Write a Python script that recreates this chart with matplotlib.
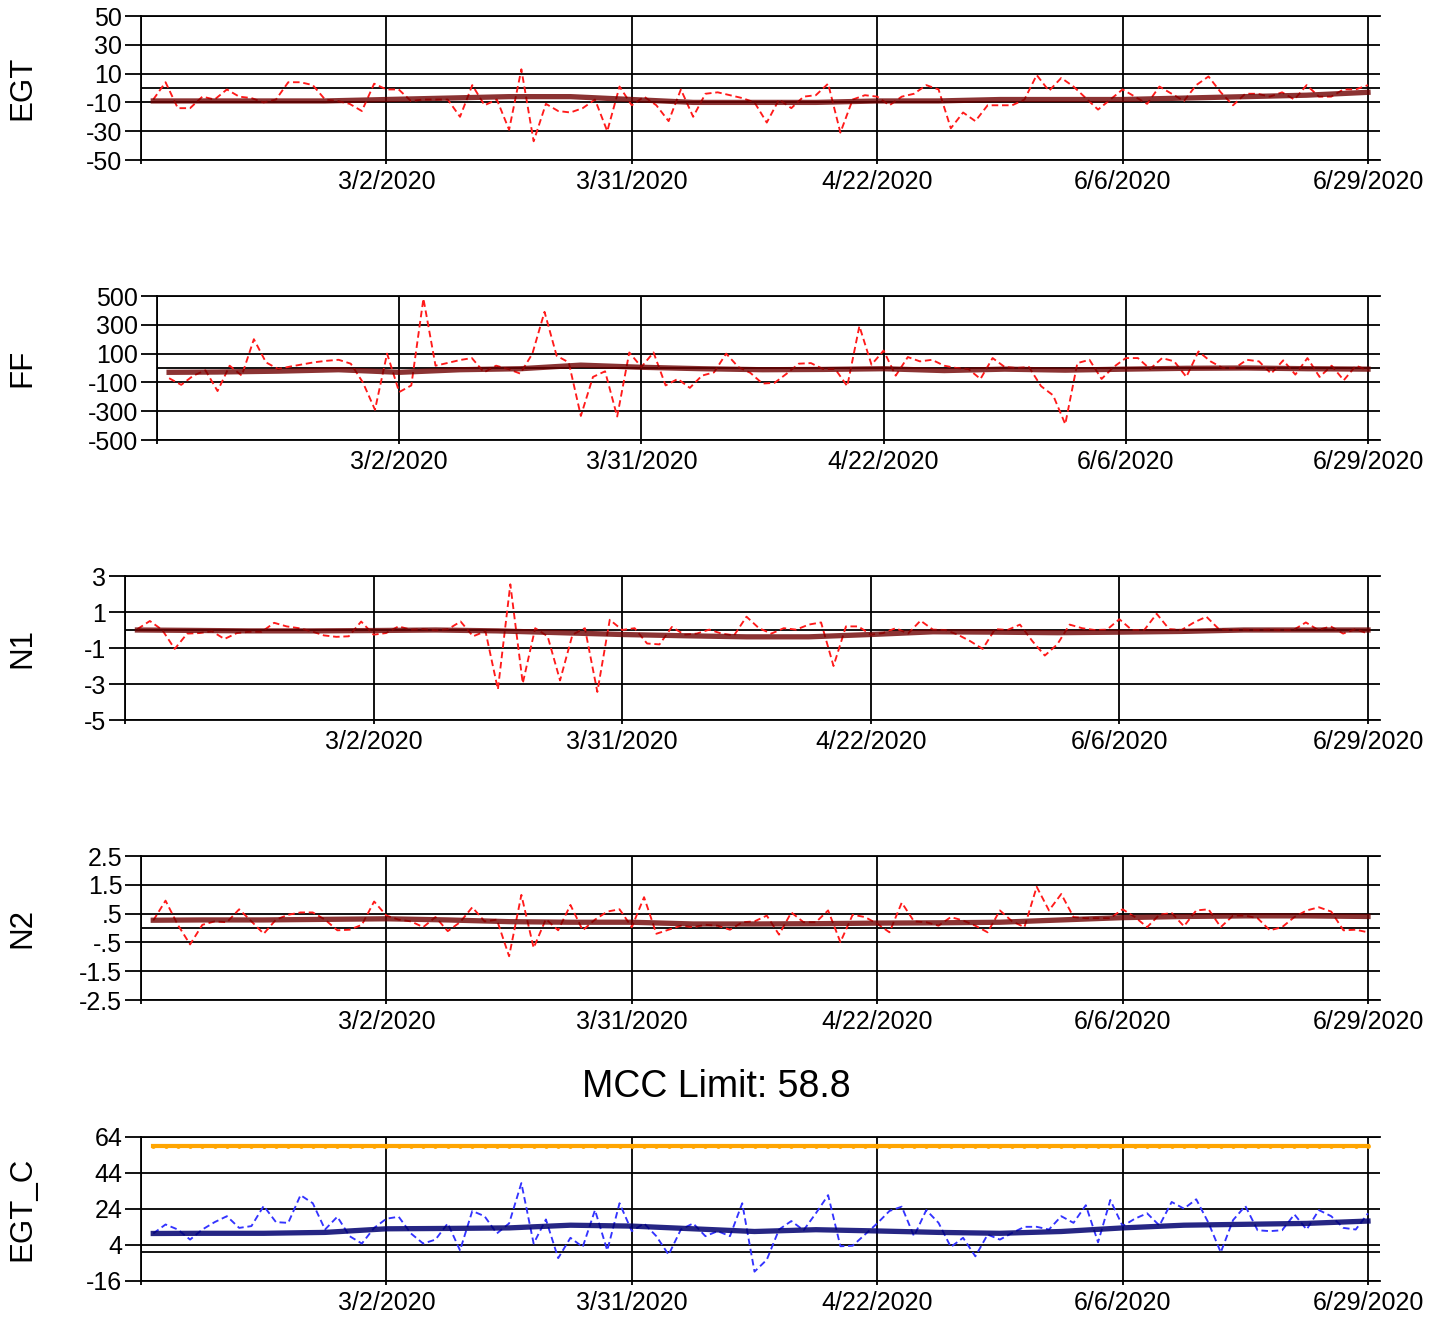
import numpy as np
import matplotlib.pyplot as plt

plt.rcParams['font.family'] = ['Liberation Sans', 'DejaVu Sans']

# x axis: flight index, labelled every 20 points
dates = ['3/2/2020', '3/31/2020', '4/22/2020', '6/6/2020', '6/29/2020']
date_pos = [20, 40, 60, 80, 100]
flight = np.arange(1, 101)
trend_x = [1, 5, 10, 15, 20, 25, 30, 35, 40, 45, 50, 55, 60, 65, 70, 75, 80, 85, 90, 95, 100]

egt = [-8, 4, -14, -14, -6, -8, -1, -6, -7, -10,
       -8, 4, 4, 2, -8, -9, -11, -16, 3, -1,
       -1, -9, -8, -8, -8, -20, 2, -12, -8, -29,
       13, -37, -11, -16, -17, -14, -8, -30, 1, -12,
       -6, -12, -23, -1, -20, -4, -3, -5, -7, -10,
       -24, -8, -14, -6, -5, 3, -31, -8, -5, -6,
       -12, -6, -4, 2, -1, -28, -17, -23, -12, -12,
       -12, -8, 9, -2, 7, 1, -7, -15, -8, -1,
       -6, -11, 1, -4, -9, 2, 8, -3, -12, -4,
       -4, -6, -3, -8, 2, -6, -6, -1, -1, 2]
egt_trend = [-9, -9, -9, -9, -8, -7, -6, -6, -8, -10, -10,
             -10, -9, -9, -8, -8, -8, -7, -6, -5, -3]

ff = [-71, -117, -53, -16, -160, 16, -53, 200, 39, -7,
      10, 25, 40, 50, 57, 30, -100, -290, 100, -167,
      -121, 482, 16, 35, 55, 69, -30, 16, -7, -39,
      100, 390, 85, 39, -333, -62, -23, -337, 108, 7,
      108, -121, -76, -138, -53, -30, 100, 7, -34, -108,
      -103, -39, 30, 34, -7, -7, -126, 291, 23, 121,
      -53, 76, 46, 57, 16, 0, -7, -76, 69, 7,
      0, 7, -126, -190, -390, 34, 57, -76, 7, 69,
      69, -7, 69, 46, -62, 115, 46, 0, 0, 57,
      46, -39, 53, -46, 69, -62, 16, -85, 16, -16]
ff_trend = [-30, -28, -22, -12, -30, -12, -5, 20, 5, -5, -12,
            -10, -5, -18, -8, -15, -8, -2, 0, -5, -8]

n1 = [0.05, 0.5, 0, -1.05, -0.2, -0.17, -0.07, -0.5, -0.17, -0.1,
      -0.1, 0.4, 0.2, 0.1, -0.07, -0.3, -0.38, -0.35, 0.47, -0.26,
      -0.17, 0.2, 0.02, 0.05, -0.02, 0.05, 0.47, -0.35, -0.07, -3.3,
      2.54, -2.96, 0.1, -0.35, -2.8, -0.26, 0.1, -3.44, 0.57, 0,
      0.1, -0.75, -0.8, 0.17, -0.26, -0.2, 0.02, -0.2, -0.3, 0.74,
      0.1, -0.2, 0.1, 0.02, 0.3, 0.42, -2.0, 0.2, 0.2, -0.26,
      -0.17, 0.1, -0.2, 0.52, 0.02, 0, -0.26, -0.62, -1.05, 0.05,
      0, 0.3, -0.62, -1.42, -0.8, 0.3, 0.1, 0, 0.02, 0.6,
      0, 0, 0.9, 0.05, 0, 0.42, 0.74, 0.05, 0, 0.02,
      0, 0.02, 0, 0, 0.42, 0, 0.2, -0.2, 0.05, -0.2]
n1_trend = [0, -0.02, -0.05, -0.05, -0.03, 0, -0.05, -0.15, -0.25, -0.32, -0.38,
            -0.38, -0.25, -0.1, -0.12, -0.15, -0.12, -0.08, 0, 0, 0]

n2 = [0.26, 0.95, 0.11, -0.57, 0.11, 0.23, 0.2, 0.65, 0.23, -0.2,
      0.29, 0.46, 0.54, 0.54, 0.29, -0.08, -0.06, 0.11, 0.92, 0.43,
      0.29, 0.23, 0.03, 0.38, -0.11, 0.2, 0.72, 0.23, 0.29, -0.98,
      1.15, -0.69, 0.31, -0.08, 0.8, -0.08, 0.29, 0.57, 0.65, 0.03,
      1.07, -0.2, -0.06, 0.08, 0.03, 0.11, 0.08, -0.06, 0.2, 0.23,
      0.43, -0.23, 0.54, 0.2, 0.2, 0.61, -0.49, 0.46, 0.38, 0.15,
      -0.15, 0.88, 0.23, 0.2, 0.08, 0.38, 0.26, 0.08, -0.15, 0.61,
      0.23, 0.03, 1.43, 0.61, 1.18, 0.38, 0.34, 0.34, 0.34, 0.65,
      0.38, 0.03, 0.46, 0.52, 0.06, 0.61, 0.65, 0.03, 0.43, 0.43,
      0.34, -0.08, 0.03, 0.38, 0.61, 0.72, 0.57, -0.08, -0.06, -0.15]
n2_trend = [0.27, 0.28, 0.28, 0.3, 0.32, 0.28, 0.22, 0.2, 0.2, 0.14, 0.14,
            0.15, 0.17, 0.18, 0.2, 0.28, 0.36, 0.4, 0.42, 0.42, 0.4]

egt_c = [10.4, 15.4, 12.6, 7, 12.6, 16.7, 20, 13.5, 14.5, 25.7,
         16.7, 16.3, 31.7, 27.2, 12.6, 19.7, 8.9, 4.8, 13.5, 18.6,
         19.7, 10.4, 4.8, 7, 16, 1, 22.9, 20, 10.4, 16,
         38.4, 4.8, 18.2, -3.3, 8, 2.9, 23.4, 1, 27.2, 11.7,
         16, 8.9, -1.4, 12.6, 16, 8.9, 11.7, 8.9, 27.2, -10.8,
         -4.2, 12.6, 17.3, 12.2, 21.6, 31.7, 3.3, 3.6, 9.8, 16,
         22.9, 25.3, 8.9, 23.4, 16.3, 2.9, 8, -2.3, 9.8, 7,
         10.7, 14.1, 14.1, 12.6, 20, 16.3, 26.1, 5.5, 29, 14.5,
         18.6, 21.6, 14.8, 27.9, 24.2, 29.4, 16.3, -0.1, 17.8, 25.7,
         12.2, 11.7, 12.2, 21, 12.6, 23.4, 20, 13.5, 12.6, 21.6]
egt_c_trend = [10.4, 10.5, 10.5, 11, 13, 13.2, 13.5, 15, 14.5, 13, 11.5,
               12.5, 11.8, 11, 10.5, 11.5, 13.5, 15, 15.5, 16, 17.3]
mcc_limit = 58.8

W, H = 1441, 1317
fig = plt.figure(figsize=(W / 100, H / 100), dpi=100)


def panel(name, left, top, bottom, yticks, ylabels):
    ax = fig.add_axes([left / W, 1 - bottom / H, (1380 - left) / W, (bottom - top) / H])
    ax.set_xlim(0, 100 * (1380 - left) / (1368 - left))
    ax.set_ylim(yticks[0], yticks[-1])
    ax.set_yticks(yticks)
    ax.set_yticklabels(ylabels)
    ax.set_xticks([0] + date_pos)
    ax.set_xticklabels([''] + dates)
    ax.grid(True, color='black', lw=1.3)
    ax.axhline(0, color='black', lw=1.3)
    ax.spines['right'].set_visible(False)
    for s in ['left', 'top', 'bottom']:
        ax.spines[s].set_linewidth(1.3)
    ax.tick_params(axis='y', length=11.5, width=1.3, pad=2, labelsize=18)
    ax.tick_params(axis='x', length=3, width=1.3, pad=4, labelsize=18)
    fig.text(22 / W, 1 - (top + bottom) / 2 / H, name, rotation=90,
             fontsize=22.5, ha='center', va='center')
    return ax


red_panels = [
    ('EGT', egt, egt_trend, 141, 16, 160, [-50, -30, -10, 10, 30, 50], None),
    ('FF', ff, ff_trend, 157, 296, 440, [-500, -300, -100, 100, 300, 500], None),
    ('N1', n1, n1_trend, 125, 576, 720, [-5, -3, -1, 1, 3], None),
    ('N2', n2, n2_trend, 141, 856, 1000, [-2.5, -1.5, -0.5, 0.5, 1.5, 2.5],
     ['-2.5', '-1.5', '-.5', '.5', '1.5', '2.5']),
]
for name, raw, trend, left, top, bottom, yt, yl in red_panels:
    if yl is None:
        yl = [str(v) for v in yt]
    ax = panel(name, left, top, bottom, yt, yl)
    ax.plot(flight, raw, color='#ff1a1a', lw=1.35, dashes=(3.5, 2), zorder=3)
    ax.plot(trend_x, trend, color='#6e0000', lw=3.8, alpha=0.8, zorder=4)

ax = panel('EGT_C', 141, 1137, 1281, [-16, 4, 24, 44, 64], ['-16', '4', '24', '44', '64'])
ax.plot(flight, [mcc_limit] * len(flight), color='#ffa500', lw=3, marker='o',
        markersize=2.4, zorder=3)
ax.plot(flight, egt_c, color='#3333ff', lw=1.35, dashes=(3.5, 2), zorder=3)
ax.plot(trend_x, egt_c_trend, color='#00006e', lw=3.8, alpha=0.85, zorder=4)
fig.text(716 / W, 1 - 1087 / H, 'MCC Limit: %s' % mcc_limit, fontsize=27,
         ha='center', va='center')

fig.savefig('out.png', dpi=100)
